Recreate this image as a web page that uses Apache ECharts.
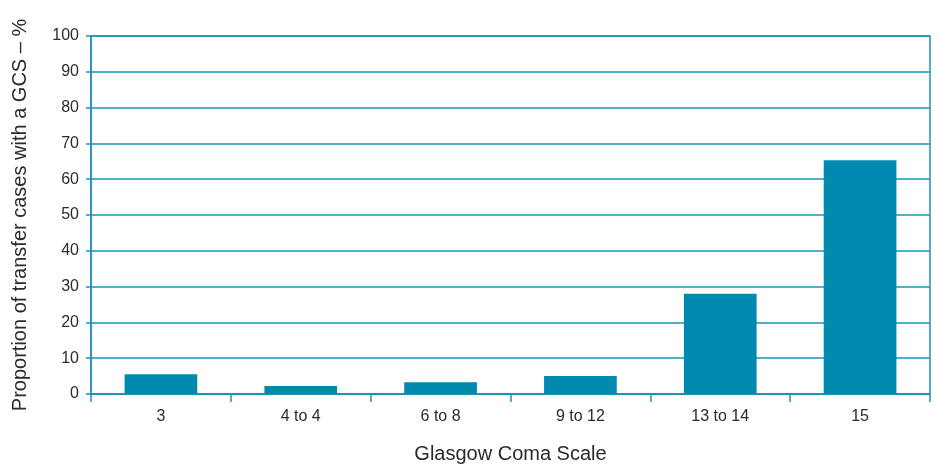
<!DOCTYPE html>
<html>
<head>
<meta charset="utf-8">
<script src="https://cdn.jsdelivr.net/npm/echarts@6/dist/echarts.min.js"></script>
<style>
  html, body { margin: 0; padding: 0; background: #fff; }
  #chart { width: 939px; height: 469px; }
</style>
</head>
<body>
<div id="chart"></div>
<script>
// GCS bands and share of transfer cases in each (%)
const categories = ['3', '4 to 4', '6 to 8', '9 to 12', '13 to 14', '15'];
const shares = [5.5, 2.2, 3.3, 5.0, 28.0, 65.3];
const yTicks = { min: 0, max: 100, interval: 10 };

const lineBlue = '#1b93b8';
const barBlue = '#008ab0';
const textColor = '#2b2b2b';
const fontFamily = '"Liberation Sans", Arial, sans-serif';

const chart = echarts.init(document.getElementById('chart'), null, { renderer: 'canvas' });
chart.setOption({
  animation: false,
  backgroundColor: '#ffffff',
  grid: {
    left: 91, right: 9, top: 36, bottom: 75,
    show: true, borderColor: lineBlue, borderWidth: 1.5
  },
  xAxis: {
    type: 'category',
    data: categories,
    name: 'Glasgow Coma Scale',
    nameLocation: 'middle',
    nameGap: 50,
    nameTextStyle: { color: textColor, fontSize: 20, fontFamily: fontFamily },
    axisLine: { lineStyle: { color: lineBlue, width: 1.5 } },
    axisTick: { show: true, alignWithLabel: false, length: 8, lineStyle: { color: lineBlue, width: 1.5 } },
    axisLabel: { color: textColor, fontSize: 16, fontFamily: fontFamily, margin: 15 },
    splitLine: { show: false }
  },
  yAxis: {
    type: 'value',
    min: yTicks.min, max: yTicks.max, interval: yTicks.interval,
    name: 'Proportion of transfer cases with a GCS \u2013 %',
    nameLocation: 'middle',
    nameGap: 61,
    nameTextStyle: { color: textColor, fontSize: 20, fontFamily: fontFamily },
    axisLine: { show: true, lineStyle: { color: lineBlue, width: 1.5 } },
    axisTick: { show: true, length: 5, lineStyle: { color: lineBlue, width: 1.5 } },
    axisLabel: { color: textColor, fontSize: 16, fontFamily: fontFamily, margin: 12 },
    splitLine: { show: true, lineStyle: { color: lineBlue, width: 1.5 } }
  },
  series: [{
    type: 'bar',
    data: shares,
    barWidth: '52%',
    itemStyle: { color: barBlue },
    z: 3
  }]
});
</script>
</body>
</html>
